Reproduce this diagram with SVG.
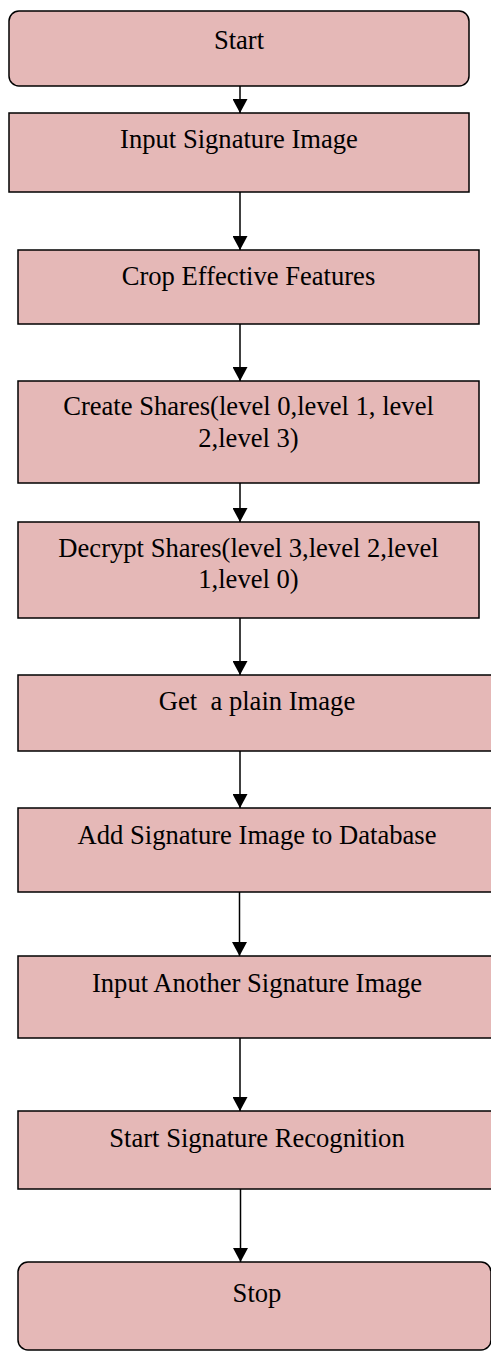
<svg xmlns="http://www.w3.org/2000/svg" width="491" height="1352" viewBox="0 0 491 1352">
  <style>
    .box { fill: #E5B8B7; stroke: #000; stroke-width: 1.5; }
    .lbl { font-family: "Liberation Serif", "Times New Roman", serif; font-size: 26.6px; fill: #000; text-anchor: middle; white-space: pre; }
    .conn { stroke: #000; stroke-width: 1.5; fill: none; marker-end: url(#arrow); }
  </style>
  <defs>
    <marker id="arrow" markerUnits="userSpaceOnUse" viewBox="0 0 14 15" markerWidth="14" markerHeight="15" refX="14" refY="7.5" orient="auto">
      <path d="M0,0 L14,7.5 L0,15 z" fill="#000"/>
    </marker>
  </defs>
  <rect width="491" height="1352" fill="#fff"/>

  <g id="start">
    <rect class="box" x="9" y="11" width="460" height="75" rx="10" ry="10"/>
    <text class="lbl" x="239" y="49">Start</text>
  </g>
  <g id="input-signature">
    <rect class="box" x="9" y="113" width="460" height="79"/>
    <text class="lbl" x="239" y="148">Input Signature Image</text>
  </g>
  <g id="crop-features">
    <rect class="box" x="18" y="250" width="461" height="74"/>
    <text class="lbl" x="248.5" y="285">Crop Effective Features</text>
  </g>
  <g id="create-shares">
    <rect class="box" x="18" y="381" width="461" height="102"/>
    <text class="lbl" x="248.5" y="415">Create Shares(level 0,level 1, level</text>
    <text class="lbl" x="248.5" y="447">2,level 3)</text>
  </g>
  <g id="decrypt-shares">
    <rect class="box" x="18" y="522" width="461" height="96"/>
    <text class="lbl" x="248.5" y="557">Decrypt Shares(level 3,level 2,level</text>
    <text class="lbl" x="248.5" y="588">1,level 0)</text>
  </g>
  <g id="plain-image">
    <rect class="box" x="18" y="675" width="480" height="76"/>
    <text class="lbl" x="257" y="710" xml:space="preserve">Get  a plain Image</text>
  </g>
  <g id="add-database">
    <rect class="box" x="18" y="808" width="480" height="84"/>
    <text class="lbl" x="257" y="844">Add Signature Image to Database</text>
  </g>
  <g id="input-another">
    <rect class="box" x="18" y="956" width="480" height="82"/>
    <text class="lbl" x="257" y="992">Input Another Signature Image</text>
  </g>
  <g id="recognition">
    <rect class="box" x="18" y="1111" width="480" height="78"/>
    <text class="lbl" x="257" y="1147">Start Signature Recognition</text>
  </g>
  <g id="stop">
    <rect class="box" x="18" y="1262" width="473" height="88" rx="10" ry="10"/>
    <text class="lbl" x="257" y="1302">Stop</text>
  </g>

  <g id="connectors">
    <line class="conn" x1="240" y1="86" x2="240" y2="113"/>
    <line class="conn" x1="240" y1="192" x2="240" y2="250"/>
    <line class="conn" x1="240" y1="324" x2="240" y2="381"/>
    <line class="conn" x1="240" y1="483" x2="240" y2="522"/>
    <line class="conn" x1="240" y1="618" x2="240" y2="675"/>
    <line class="conn" x1="240" y1="751" x2="240" y2="808"/>
    <line class="conn" x1="239.5" y1="892" x2="239.5" y2="956"/>
    <line class="conn" x1="240" y1="1038" x2="240" y2="1111"/>
    <line class="conn" x1="240.5" y1="1189" x2="240.5" y2="1262"/>
  </g>
</svg>
